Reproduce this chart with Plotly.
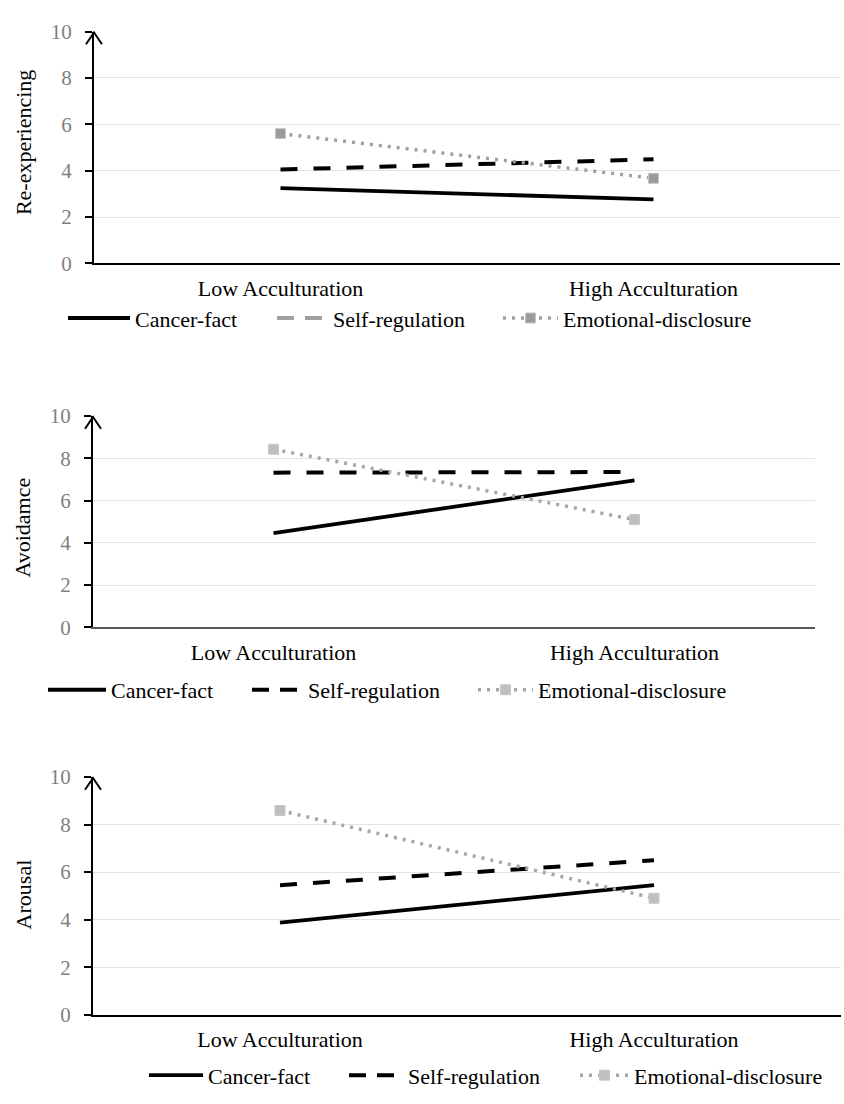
import plotly.graph_objects as go

# ---------------- data ----------------
categories = ["Low Acculturation", "High Acculturation"]
series_names = ["Cancer-fact", "Self-regulation", "Emotional-disclosure"]
panel_titles = ["Re-experiencing", "Avoidamce", "Arousal"]
y_ticks = [0, 2, 4, 6, 8, 10]

reexp_cancer = [3.25, 2.76]
reexp_self = [4.05, 4.49]
reexp_emotional = [5.60, 3.67]

avoid_cancer = [4.46, 6.95]
avoid_self = [7.32, 7.35]
avoid_emotional = [8.43, 5.10]

arousal_cancer = [3.87, 5.45]
arousal_self = [5.45, 6.50]
arousal_emotional = [8.59, 4.90]

panels_values = [
    (reexp_cancer, reexp_self, reexp_emotional),
    (avoid_cancer, avoid_self, avoid_emotional),
    (arousal_cancer, arousal_self, arousal_emotional),
]

# ---------------- layout helpers ----------------
W, H = 844, 1104
def fx(px):
    return px / W
def fy(py):
    return 1 - py / H

# pixel boxes of the three plot areas: (left, right, top, bottom)
boxes = [(94, 840, 20, 257), (93, 815, 413, 629), (93, 841, 782, 1025)]
title_y = [134, 527, 902]
# legend entries: symbol start (px) and text start (px) per panel
legend_sym = [[68, 277, 503], [48, 252, 478], [149, 349, 580]]
legend_txt = [[135, 333, 563], [111, 308, 538], [208, 408, 634]]
legend_y = [313, 693, 1087]
xaxis_line_colors = ["#000000", "#595959", "#000000"]
emo_line_colors = ["#a0a0a0", "#a6a6a6", "#a6a6a6"]
emo_marker_colors = ["#9a9a9a", "#bfbfbf", "#bfbfbf"]
legend_self_colors = ["#a0a0a0", "#000000", "#000000"]

FONT = "Liberation Serif, Times New Roman, serif"

fig = go.Figure()
shapes = []
annotations = []

def legend_name(k):
    return "legend" if k == 1 else f"legend{k}"

for i, (vals, box) in enumerate(zip(panels_values, boxes)):
    n = i + 1
    xa = "x" if n == 1 else f"x{n}"
    ya = "y" if n == 1 else f"y{n}"
    lgs = [legend_name(3 * i + j + 1) for j in range(3)]
    cancer, selfreg, emo = vals

    fig.add_trace(go.Scatter(
        x=categories, y=cancer, name=series_names[0], mode="lines",
        line=dict(color="#000000", width=3.8), xaxis=xa, yaxis=ya,
        legend=lgs[0]))
    fig.add_trace(go.Scatter(
        x=categories, y=selfreg, name=series_names[1], mode="lines",
        line=dict(color="#000000", width=4, dash="17px,16px"),
        xaxis=xa, yaxis=ya, showlegend=False))
    # legend entry for self-regulation (styled as drawn in the legend)
    fig.add_trace(go.Scatter(
        x=[None], y=[None], name=series_names[1], mode="lines",
        line=dict(color=legend_self_colors[i], width=4, dash="17px,11px"),
        xaxis=xa, yaxis=ya, legend=lgs[1]))
    fig.add_trace(go.Scatter(
        x=categories, y=emo, name=series_names[2], mode="lines+markers",
        line=dict(color=emo_line_colors[i], width=3.5, dash="3px,6px"),
        marker=dict(symbol="square", size=10, color=emo_marker_colors[i],
                    line=dict(color="#c8c8c8", width=1)),
        xaxis=xa, yaxis=ya, legend=lgs[2]))

    l, r, t, b = box
    xkey = "xaxis" if n == 1 else f"xaxis{n}"
    ykey = "yaxis" if n == 1 else f"yaxis{n}"
    fig.update_layout(**{
        xkey: dict(
            domain=[fx(l), fx(r)], anchor=ya, type="category",
            range=[-0.5, 1.5], showline=True, linecolor=xaxis_line_colors[i],
            linewidth=2, showgrid=False, zeroline=False, ticks="",
            tickfont=dict(family=FONT, size=22, color="#000000"),
            ticklabelstandoff=4, fixedrange=True),
        ykey: dict(
            domain=[fy(b), fy(t)], anchor=xa, range=[0, 10],
            tickvals=y_ticks, showline=True, linecolor="#000000",
            linewidth=2, ticks="outside", ticklen=7, tickwidth=1.5,
            tickcolor="#000000", showgrid=True, gridcolor="#e3e3e3",
            gridwidth=1.2, zeroline=False,
            tickfont=dict(family=FONT, size=21, color="#808080"),
            ticklabelstandoff=9, fixedrange=True),
    })

    # open arrowhead at the top of the y axis
    shapes.append(dict(
        type="path", xref="paper", yref="paper",
        path=(f"M{fx(l-8)},{fy(t+13)} L{fx(l)},{fy(t+1)} "
              f"L{fx(l+8)},{fy(t+13)}"),
        line=dict(color="#000000", width=2)))

    annotations.append(dict(
        text=panel_titles[i], xref="paper", yref="paper",
        x=fx(23), y=fy(title_y[i]), textangle=-90, showarrow=False,
        xanchor="center", yanchor="middle",
        font=dict(family=FONT, size=22, color="#000000")))

    for j in range(3):
        lx = legend_sym[i][j] - 5
        iw = legend_txt[i][j] - 10 - lx
        fig.update_layout(**{lgs[j]: dict(
            orientation="h", x=fx(lx), y=fy(legend_y[i]),
            xanchor="left", yanchor="middle",
            font=dict(family=FONT, size=22, color="#000000"),
            bgcolor="rgba(0,0,0,0)", itemwidth=max(30, iw),
            itemclick=False, itemdoubleclick=False)})

fig.update_layout(
    width=W, height=H, margin=dict(l=0, r=0, t=0, b=0),
    paper_bgcolor="white", plot_bgcolor="white",
    shapes=shapes, annotations=annotations,
)

fig.write_html(
    "out.html",
    config={"displayModeBar": False},
    post_script="document.body.style.margin='0';"
                "document.body.style.padding='0';"
                "document.body.style.overflow='hidden';")
